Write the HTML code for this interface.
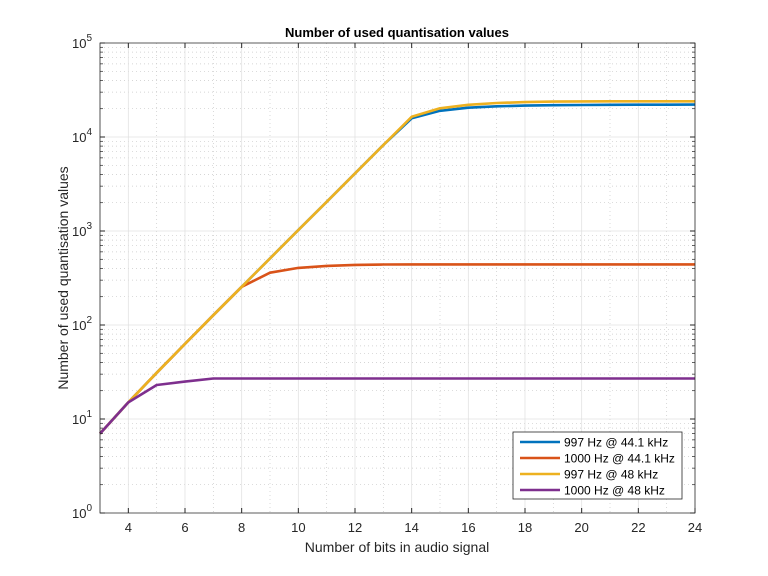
<!DOCTYPE html>
<html><head><meta charset="utf-8"><style>body{margin:0;background:#fff}svg{display:block}</style></head>
<body>
<svg id="s" width="768" height="576" xmlns="http://www.w3.org/2000/svg" font-family="Liberation Sans, sans-serif"></svg>
<script>
const L=100,R=695,T=43,B=513;
const X=v=>L+(v-3)*(R-L)/21, Y=v=>B-Math.log10(v)*94;
let h='<rect width="768" height="576" fill="#fff"/>';
// minor grid
for(let d=0;d<5;d++)for(let m=2;m<10;m++){let y=Y(m*Math.pow(10,d));h+=`<line x1="${L}" x2="${R}" y1="${y}" y2="${y}" stroke="#c8c8c8" stroke-width="0.7" stroke-dasharray="1,3"/>`;}
for(let v=5;v<24;v+=2){h+=`<line x1="${X(v)}" x2="${X(v)}" y1="${T}" y2="${B}" stroke="#c8c8c8" stroke-width="0.7" stroke-dasharray="1,3"/>`;}
// major grid
for(let d=1;d<5;d++){let y=Y(Math.pow(10,d));h+=`<line x1="${L}" x2="${R}" y1="${y}" y2="${y}" stroke="#e2e2e2" stroke-width="0.8"/>`;}
for(let v=4;v<24;v+=2)h+=`<line x1="${X(v)}" x2="${X(v)}" y1="${T}" y2="${B}" stroke="#e2e2e2" stroke-width="0.8"/>`;
// series
const n=[];for(let i=3;i<=24;i++)n.push(i);
function line(vals,c){return `<polyline fill="none" stroke="${c}" stroke-width="2.6" stroke-linejoin="round" points="${vals.map((v,i)=>X(n[i]).toFixed(1)+','+Y(v).toFixed(1)).join(' ')}"/>`;}
const pw=k=>Math.pow(2,k)-1;
const blue=n.map(k=>k<=13?pw(k):[15800,19000,20500,21200,21600,21800,21900,22000,22050,22080,22100][k-14]);
const yel=n.map(k=>k<=14?pw(k):[20200,22000,23000,23500,23800,23900,24000,24000,24000,24000][k-15]);
const ora=n.map(k=>k<=8?pw(k):[360,405,425,436,440,441][Math.min(k-9,5)]);
const pur=n.map(k=>k<=4?pw(k):[23,25,27][Math.min(k-5,2)]);
h+=line(blue,'#0072bd')+line(ora,'#d95319')+line(yel,'#edb120')+line(pur,'#7e2f8e');
// axes
h+=`<path d="M${L},${T}H${R}V${B}H${L}Z" fill="none" stroke="#262626" stroke-width="0.8"/>`;
for(let v=4;v<=24;v+=2){let x=X(v);h+=`<line x1="${x}" x2="${x}" y1="${B}" y2="${B-5}" stroke="#262626"/><line x1="${x}" x2="${x}" y1="${T}" y2="${T+5}" stroke="#262626"/><text x="${x}" y="${B+19}" font-size="13" text-anchor="middle" fill="#262626">${v}</text>`;}
for(let d=0;d<=5;d++){let y=Y(Math.pow(10,d));h+=`<line x1="${L}" x2="${L+5}" y1="${y}" y2="${y}" stroke="#262626"/><line x1="${R}" x2="${R-5}" y1="${y}" y2="${y}" stroke="#262626"/><text x="${L-8}" y="${y+5}" font-size="13" text-anchor="end" fill="#262626">10<tspan dy="-7" font-size="10">${d}</tspan></text>`;
 if(d<5)for(let m=2;m<10;m++){let yy=Y(m*Math.pow(10,d));h+=`<line x1="${L}" x2="${L+3}" y1="${yy}" y2="${yy}" stroke="#262626" stroke-width="0.7"/><line x1="${R}" x2="${R-3}" y1="${yy}" y2="${yy}" stroke="#262626" stroke-width="0.7"/>`;}}
h+=`<text x="397" y="37" font-size="13" font-weight="bold" text-anchor="middle" fill="#000">Number of used quantisation values</text>`;
h+=`<text x="397" y="552" font-size="14" text-anchor="middle" fill="#262626">Number of bits in audio signal</text>`;
h+=`<text transform="translate(68,278) rotate(-90)" font-size="14" text-anchor="middle" fill="#262626">Number of used quantisation values</text>`;
// legend
h+=`<rect x="513" y="432" width="169" height="67" fill="#fff" stroke="#262626" stroke-width="0.8"/>`;
[['997 Hz @ 44.1 kHz','#0072bd'],['1000 Hz @ 44.1 kHz','#d95319'],['997 Hz @ 48 kHz','#edb120'],['1000 Hz @ 48 kHz','#7e2f8e']].forEach((e,i)=>{let y=442+i*16;h+=`<line x1="520" x2="560" y1="${y}" y2="${y}" stroke="${e[1]}" stroke-width="2.6"/><text x="564" y="${y+4.5}" font-size="12" fill="#000">${e[0]}</text>`;});
document.getElementById('s').innerHTML=h;
</script>
</body></html>
